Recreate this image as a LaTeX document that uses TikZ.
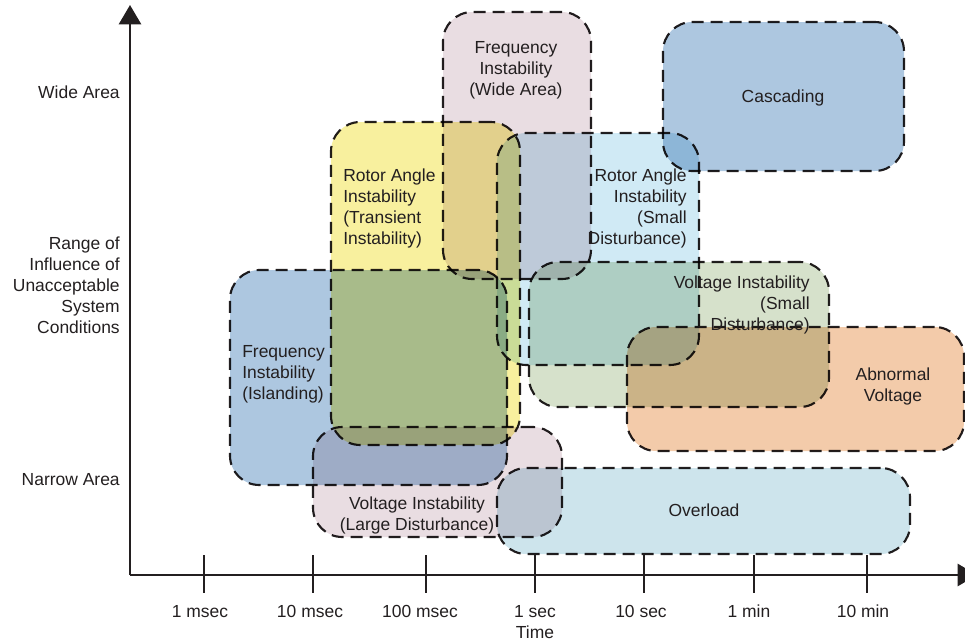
\documentclass[tikz,border=0pt]{standalone}
\usepackage{fontspec}
\setmainfont{Liberation Sans}
\usetikzlibrary{fit,arrows.meta}
\definecolor{cpink}{RGB}{233,221,226}
\definecolor{cyellow}{RGB}{248,240,158}
\definecolor{cblue}{RGB}{173,199,224}
\definecolor{clblue}{RGB}{208,234,245}
\definecolor{csage}{RGB}{214,225,203}
\definecolor{corange}{RGB}{243,203,170}
\definecolor{cover}{RGB}{205,228,236}
\definecolor{ink}{RGB}{35,31,32}
\begin{document}
\begin{tikzpicture}[x=0.75pt,y=-0.75pt,
  region/.style={draw=ink, line width=1.6pt, dash pattern=on 9pt off 5.25pt, rounded corners=22pt, inner sep=0pt},
  lbl/.style={inner sep=0pt, text=ink, font=\fontsize{13.1}{15.75}\selectfont},
  axisline/.style={line width=2pt, draw=ink},
  tickline/.style={line width=2pt, draw=ink}]
\useasboundingbox (0,0) rectangle (965,643);

% regions
\begin{scope}[blend mode=multiply]
\node[region, fill=cpink,   fit={(443,12) (591,279)}]  (fw) {};
\node[region, fill=cblue,   fit={(663,22) (904,171)}]  (cas) {};
\node[region, fill=cyellow, fit={(331,122) (520,445)}] (rt) {};
\node[region, fill=clblue,  fit={(497,133) (699,365)}] (rs) {};
\node[region, fill=csage,   fit={(529,262) (829,407)}] (vs) {};
\node[region, fill=corange, fit={(627,327) (964,451)}] (ab) {};
\node[region, fill=cblue,   fit={(230,270) (507,485)}] (fi) {};
\node[region, fill=cpink,   fit={(313,427) (562,537)}] (vl) {};
\node[region, fill=cover,   fit={(497,468) (910,554)}] (ov) {};
\end{scope}

% region labels
\node[lbl, align=center, anchor=north] (tfw) at (516,41.5) {Frequency\\Instability\\(Wide Area)};
\node[lbl, anchor=base] (tcas) at (783,102) {Cascading};
\node[lbl, align=left, anchor=north west] (trt) at (343,168.5) {Rotor Angle\\Instability\\(Transient\\Instability)};
\node[lbl, align=right, anchor=north east] (trs) at (687,168.5) {Rotor Angle\\Instability\\(Small\\Disturbance)};
\node[lbl, align=right, anchor=north east] (tvs) at (810,275.5) {Voltage Instability\\(Small\\Disturbance)};
\node[lbl, align=center, anchor=north] (tab) at (893,367.5) {Abnormal\\Voltage};
\node[lbl, align=left, anchor=north west] (tfi) at (242,345.5) {Frequency\\Instability\\(Islanding)};
\node[lbl, align=center, anchor=north] (tvl) at (417,496.5) {Voltage Instability\\(Large Disturbance)};
\node[lbl, anchor=base] (tov) at (704,516) {Overload};

% axes
\coordinate (O) at (130,575);
\coordinate (ytop) at (130,5);
\coordinate (xend) at (977,575);
\draw[axisline, -{Triangle[length=14.5pt,width=16.5pt]}] (O) -- (ytop);
\draw[axisline, -{Triangle[length=14.5pt,width=16.5pt]}] (O) -- (xend);

% y labels
\node[lbl, anchor=base east] (wide) at (120,98) {Wide Area};
\node[lbl, align=right, anchor=north east] (range) at (120,236.5) {Range of\\Influence of\\Unacceptable\\System\\Conditions};
\node[lbl, anchor=base east] (narrow) at (120,485) {Narrow Area};

% ticks and labels
\foreach \x/\t/\c [count=\i] in {204/1 msec/200, 313/10 msec/310, 426/100 msec/420, 535/1 sec/535, 644/10 sec/641, 754/1 min/749, 867/10 min/863}{
  \draw[tickline] (\x,555) -- (\x,593);
  \node[lbl, anchor=base] (tick\i) at (\c,617) {\t};
}
\node[lbl, anchor=base] (time) at (535,638) {Time};
\end{tikzpicture}
\end{document}
